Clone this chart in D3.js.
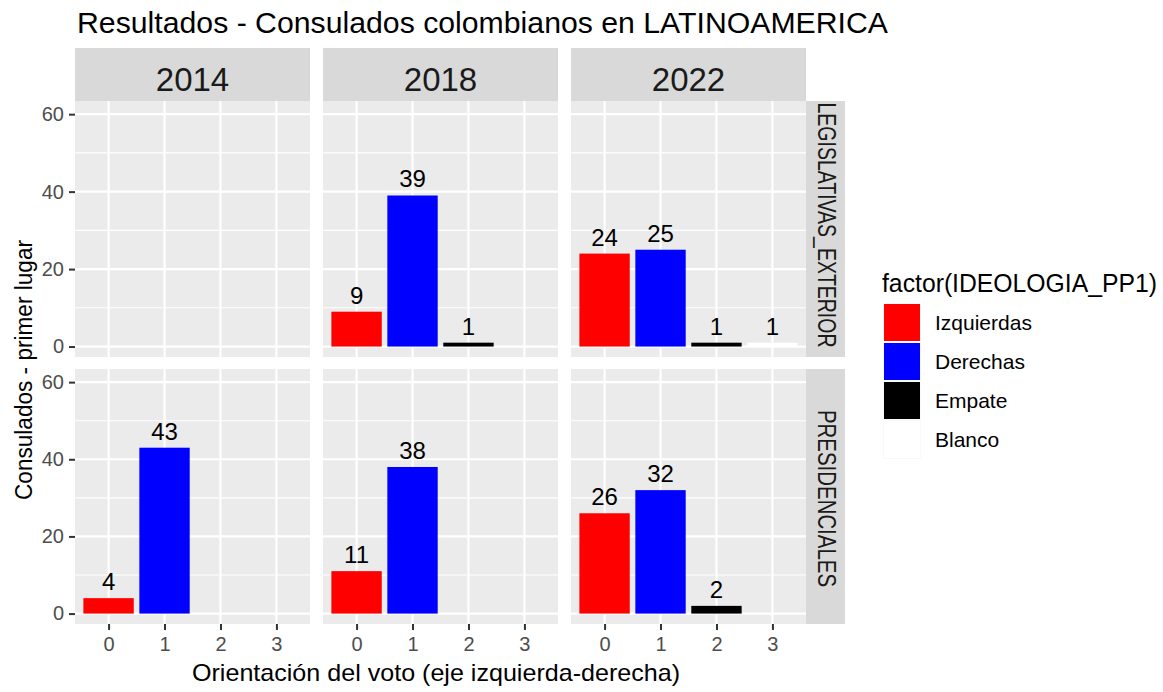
<!DOCTYPE html>
<html><head><meta charset="utf-8">
<script src="https://cdn.jsdelivr.net/npm/d3@7"></script>
<style>body{margin:0;background:#fff;} text{font-family:"Liberation Sans",Arial,sans-serif;}</style>
</head><body><svg id="chart" width="1163" height="692"></svg>
<script>
// ---- data ----
const years = ["2014", "2018", "2022"];
const elections = ["LEGISLATIVAS_EXTERIOR", "PRESIDENCIALES"];
const orientation = [0, 1, 2, 3];
const ideologies = ["Izquierdas", "Derechas", "Empate", "Blanco"];
const ideologyColors = ["#FF0000", "#0000FF", "#000000", "#FFFFFF"];
const yTicks = [0, 20, 40, 60];
const yMinor = [10, 30, 50];
// counts per orientation (0..3), null = no bar
const legislativas2014 = [null, null, null, null];
const legislativas2018 = [9, 39, 1, null];
const legislativas2022 = [24, 25, 1, 1];
const presidenciales2014 = [4, 43, null, null];
const presidenciales2018 = [11, 38, null, null];
const presidenciales2022 = [26, 32, 2, null];
const title = "Resultados - Consulados colombianos en LATINOAMERICA";
const xTitle = "Orientación del voto (eje izquierda-derecha)";
const yTitle = "Consulados - primer lugar";
const legendTitle = "factor(IDEOLOGIA_PP1)";

const panelValues = [
  [legislativas2014, legislativas2018, legislativas2022],
  [presidenciales2014, presidenciales2018, presidenciales2022]
];

// ---- layout ----
const svg = d3.select("#chart");
const colX = [75, 323, 571], panelW = 235;
const rowY = [101, 369], panelH = [256, 255];
const stripTopY = 48, stripTopH = 53;
const stripRightX = 806, stripRightW = 39;

const color = d3.scaleOrdinal().domain(orientation).range(ideologyColors);

svg.append("text").attr("x", 77).attr("y", 33).attr("font-size", 29).attr("fill", "#000")
  .attr("textLength", 811).attr("lengthAdjust", "spacingAndGlyphs").text(title);

years.forEach((yr, c) => {
  const g = svg.append("g");
  g.append("rect").attr("x", colX[c]).attr("y", stripTopY).attr("width", panelW).attr("height", stripTopH).attr("fill", "#D9D9D9");
  g.append("text").attr("x", colX[c] + panelW / 2).attr("y", 91).attr("text-anchor", "middle")
    .attr("font-size", 33).attr("fill", "#1A1A1A").text(yr);
});

elections.forEach((el, r) => {
  const yScale = d3.scaleLinear().domain([-2.7, 63.4]).range([rowY[r] + panelH[r], rowY[r]]);
  // right strip
  svg.append("rect").attr("x", stripRightX).attr("y", rowY[r]).attr("width", stripRightW).attr("height", panelH[r]).attr("fill", "#D9D9D9");
  const cy = rowY[r] + panelH[r] / 2 - (r === 0 ? 4 : -2);
  svg.append("text").attr("transform", `translate(${stripRightX + stripRightW / 2 - 8},${cy}) rotate(90)`)
    .attr("text-anchor", "middle").attr("font-size", 26).attr("fill", "#1A1A1A")
    .attr("textLength", r === 0 ? 245 : 177).attr("lengthAdjust", "spacingAndGlyphs").text(el);

  // y axis
  const yAxis = d3.axisLeft(yScale).tickValues(yTicks).tickSize(6).tickPadding(5);
  const ya = svg.append("g").attr("transform", `translate(${colX[0]},0)`).call(yAxis);
  ya.select(".domain").remove();
  ya.selectAll(".tick line").attr("stroke", "#333333").attr("stroke-width", 2);
  ya.selectAll(".tick text").attr("font-size", 20).attr("fill", "#4D4D4D").attr("font-family", "Liberation Sans, Arial, sans-serif");

  years.forEach((yr, c) => {
    const xScale = d3.scaleLinear().domain([-0.6, 3.6]).range([colX[c], colX[c] + panelW]);
    const g = svg.append("g");
    g.append("rect").attr("x", colX[c]).attr("y", rowY[r]).attr("width", panelW).attr("height", panelH[r]).attr("fill", "#EBEBEB");
    g.selectAll(".minor").data(yMinor).join("line")
      .attr("x1", colX[c]).attr("x2", colX[c] + panelW).attr("y1", d => yScale(d)).attr("y2", d => yScale(d))
      .attr("stroke", "#fff").attr("stroke-width", 1.1);
    g.selectAll(".major").data(yTicks).join("line")
      .attr("x1", colX[c]).attr("x2", colX[c] + panelW).attr("y1", d => yScale(d)).attr("y2", d => yScale(d))
      .attr("stroke", "#fff").attr("stroke-width", 2.2);
    g.selectAll(".vmajor").data(orientation).join("line")
      .attr("y1", rowY[r]).attr("y2", rowY[r] + panelH[r]).attr("x1", d => xScale(d)).attr("x2", d => xScale(d))
      .attr("stroke", "#fff").attr("stroke-width", 2.2);

    const vals = panelValues[r][c];
    const data = orientation.map((o, i) => ({ o, v: vals[i] })).filter(d => d.v !== null);
    g.selectAll(".bar").data(data).join("rect")
      .attr("x", d => xScale(d.o - 0.45)).attr("width", d => xScale(d.o + 0.45) - xScale(d.o - 0.45))
      .attr("y", d => yScale(d.v)).attr("height", d => yScale(0) - yScale(d.v))
      .attr("fill", d => color(d.o));
    g.selectAll(".lbl").data(data).join("text")
      .attr("x", d => xScale(d.o)).attr("y", d => yScale(d.v) - 8).attr("text-anchor", "middle")
      .attr("font-size", 24).attr("fill", "#000").text(d => d.v);

    if (r === 1) {
      const xAxis = d3.axisBottom(xScale).tickValues(orientation).tickSize(6).tickPadding(7).tickFormat(d3.format("d"));
      const xa = svg.append("g").attr("transform", `translate(0,${rowY[r] + panelH[r]})`).call(xAxis);
      xa.select(".domain").remove();
      xa.selectAll(".tick line").attr("stroke", "#333333").attr("stroke-width", 2);
      xa.selectAll(".tick text").attr("font-size", 20).attr("fill", "#4D4D4D").attr("font-family", "Liberation Sans, Arial, sans-serif");
    }
  });
});

// axis titles
svg.append("text").attr("x", 436).attr("y", 681).attr("text-anchor", "middle")
  .attr("font-size", 24).attr("fill", "#000").attr("textLength", 488).attr("lengthAdjust", "spacingAndGlyphs").text(xTitle);
svg.append("text").attr("transform", `translate(32,370) rotate(-90)`).attr("text-anchor", "middle")
  .attr("font-size", 23).attr("fill", "#000").attr("textLength", 260).attr("lengthAdjust", "spacingAndGlyphs").text(yTitle);

// legend
const lg = svg.append("g");
lg.append("text").attr("x", 882).attr("y", 292).attr("font-size", 25).attr("fill", "#000")
  .attr("textLength", 275).attr("lengthAdjust", "spacingAndGlyphs").text(legendTitle);
const keyY = d3.scaleBand().domain(ideologies).range([303, 459]);
lg.selectAll(".keybg").data(ideologies).join("rect")
  .attr("x", 883).attr("y", d => keyY(d)).attr("width", 38).attr("height", keyY.bandwidth())
  .attr("fill", "#F2F2F2").attr("stroke", "#fff").attr("stroke-width", 1);
lg.selectAll(".key").data(ideologies).join("rect")
  .attr("x", 884).attr("y", d => keyY(d) + 1).attr("width", 36).attr("height", keyY.bandwidth() - 2)
  .attr("fill", (d, i) => ideologyColors[i]);
lg.selectAll(".klbl").data(ideologies).join("text")
  .attr("x", 935).attr("y", d => keyY(d) + keyY.bandwidth() / 2 + 7).attr("font-size", 21).attr("fill", "#000").text(d => d);
</script></body></html>
